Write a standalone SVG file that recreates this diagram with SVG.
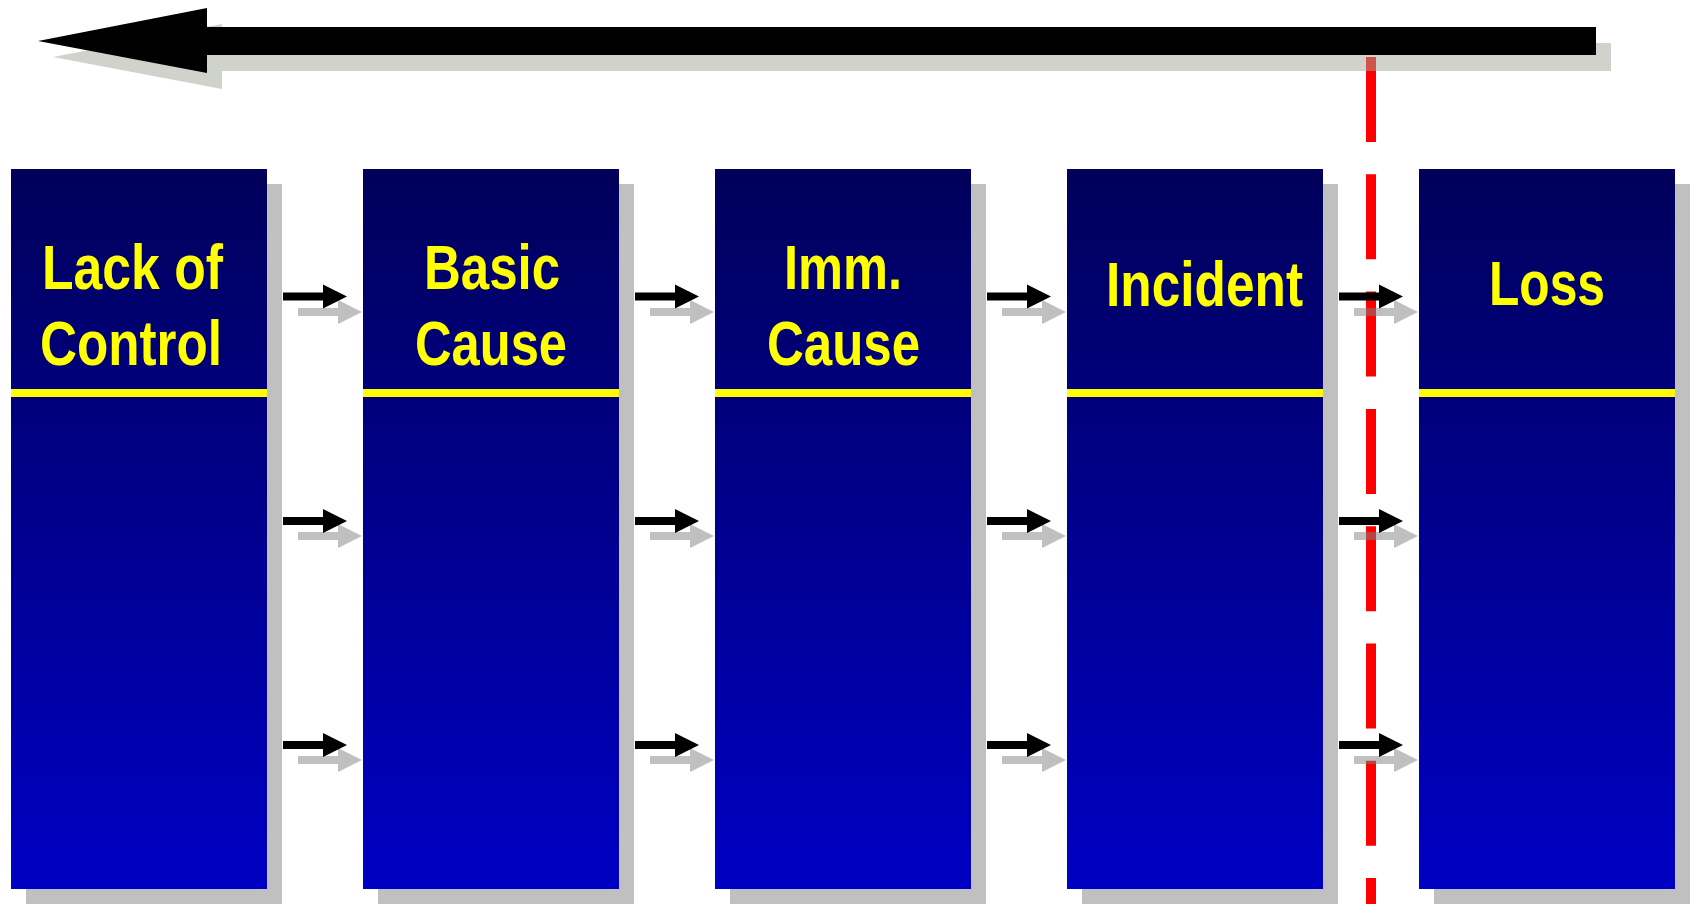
<svg xmlns="http://www.w3.org/2000/svg" xmlns:xlink="http://www.w3.org/1999/xlink" width="1691" height="904" viewBox="0 0 1691 904">
  <style>
    .shadow { fill: #c0c0c0; }
    .box { fill: url(#boxgrad); }
    .band { fill: #ffff00; }
    .label { font-family: "Liberation Sans", Arial, sans-serif; font-weight: bold; font-size: 63px; fill: #ffff00; text-anchor: middle; }
    .arr { fill: #000000; }
    .arrsh { fill: #818181; fill-opacity: 0.5; }
    .bigsh { fill: #a1a797; fill-opacity: 0.5; }
  </style>
  <defs>
    <linearGradient id="boxgrad" x1="0" y1="0" x2="0" y2="1">
      <stop offset="0" stop-color="#00005a"/>
      <stop offset="1" stop-color="#0000c4"/>
    </linearGradient>
    <path id="small" d="M0,-4 H40 V-12 L64,0 L40,12 V4 H0 Z"/>
  </defs>
  <rect width="1691" height="904" fill="#ffffff"/>

  <g id="node-lack-of-control">
    <rect class="shadow" x="26" y="184" width="256" height="720"/>
    <rect class="box" x="11" y="169" width="256" height="720"/>
    <rect class="band" x="11" y="389" width="256" height="8"/>
    <text class="label" x="132.5" y="289" textLength="181" lengthAdjust="spacingAndGlyphs">Lack of</text>
    <text class="label" x="131" y="365" textLength="182" lengthAdjust="spacingAndGlyphs">Control</text>
  </g>
  <g id="node-basic-cause">
    <rect class="shadow" x="378" y="184" width="256" height="720"/>
    <rect class="box" x="363" y="169" width="256" height="720"/>
    <rect class="band" x="363" y="389" width="256" height="8"/>
    <text class="label" x="492" y="289" textLength="136" lengthAdjust="spacingAndGlyphs">Basic</text>
    <text class="label" x="491" y="365" textLength="152" lengthAdjust="spacingAndGlyphs">Cause</text>
  </g>
  <g id="node-imm-cause">
    <rect class="shadow" x="730" y="184" width="256" height="720"/>
    <rect class="box" x="715" y="169" width="256" height="720"/>
    <rect class="band" x="715" y="389" width="256" height="8"/>
    <text class="label" x="843" y="289" textLength="118" lengthAdjust="spacingAndGlyphs">Imm.</text>
    <text class="label" x="843.5" y="365" textLength="153" lengthAdjust="spacingAndGlyphs">Cause</text>
  </g>
  <g id="node-incident">
    <rect class="shadow" x="1082" y="184" width="256" height="720"/>
    <rect class="box" x="1067" y="169" width="256" height="720"/>
    <rect class="band" x="1067" y="389" width="256" height="8"/>
    <text class="label" x="1204.5" y="306" textLength="197" lengthAdjust="spacingAndGlyphs">Incident</text>
  </g>
  <g id="node-loss">
    <rect class="shadow" x="1434" y="184" width="256" height="720"/>
    <rect class="box" x="1419" y="169" width="256" height="720"/>
    <rect class="band" x="1419" y="389" width="256" height="8"/>
    <text class="label" x="1547" y="305" textLength="116" lengthAdjust="spacingAndGlyphs">Loss</text>
  </g>

  <g id="red-dashed-line">
    <line x1="1371" y1="57" x2="1371" y2="904" stroke="#ff0000" stroke-width="10" stroke-dasharray="85 32.3"/>
  </g>

  <g id="connectors">
    <use href="#small" xlink:href="#small" class="arrsh" x="298" y="312"/>
    <use href="#small" xlink:href="#small" class="arrsh" x="298" y="536"/>
    <use href="#small" xlink:href="#small" class="arrsh" x="298" y="760"/>
    <use href="#small" xlink:href="#small" class="arrsh" x="650" y="312"/>
    <use href="#small" xlink:href="#small" class="arrsh" x="650" y="536"/>
    <use href="#small" xlink:href="#small" class="arrsh" x="650" y="760"/>
    <use href="#small" xlink:href="#small" class="arrsh" x="1002" y="312"/>
    <use href="#small" xlink:href="#small" class="arrsh" x="1002" y="536"/>
    <use href="#small" xlink:href="#small" class="arrsh" x="1002" y="760"/>
    <use href="#small" xlink:href="#small" class="arrsh" x="1354" y="312"/>
    <use href="#small" xlink:href="#small" class="arrsh" x="1354" y="536"/>
    <use href="#small" xlink:href="#small" class="arrsh" x="1354" y="760"/>

    <use href="#small" xlink:href="#small" class="arr" x="283" y="296.5"/>
    <use href="#small" xlink:href="#small" class="arr" x="283" y="521"/>
    <use href="#small" xlink:href="#small" class="arr" x="283" y="745"/>
    <use href="#small" xlink:href="#small" class="arr" x="635" y="296.5"/>
    <use href="#small" xlink:href="#small" class="arr" x="635" y="521"/>
    <use href="#small" xlink:href="#small" class="arr" x="635" y="745"/>
    <use href="#small" xlink:href="#small" class="arr" x="987" y="296.5"/>
    <use href="#small" xlink:href="#small" class="arr" x="987" y="521"/>
    <use href="#small" xlink:href="#small" class="arr" x="987" y="745"/>
    <use href="#small" xlink:href="#small" class="arr" x="1339" y="296.5"/>
    <use href="#small" xlink:href="#small" class="arr" x="1339" y="521"/>
    <use href="#small" xlink:href="#small" class="arr" x="1339" y="745"/>

    <g id="big-arrow">
      <polygon class="bigsh" points="53,57 222,24 222,43 1611,43 1611,71 222,71 222,89"/>
      <polygon class="arr" points="38,41 207,8 207,27 1596,27 1596,55 207,55 207,73"/>
    </g>
  </g>
</svg>
